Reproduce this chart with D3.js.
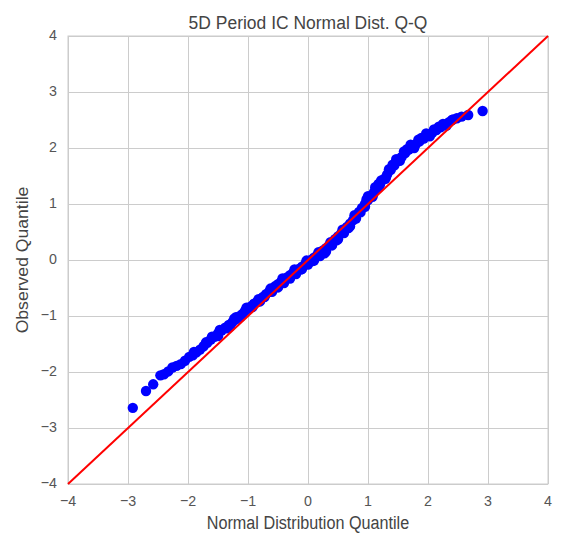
<!DOCTYPE html>
<html>
<head>
<meta charset="utf-8">
<script src="https://cdn.jsdelivr.net/npm/d3@7"></script>
<style>
  html, body { margin: 0; padding: 0; background: #fff; }
  svg { display: block; }
  text { font-family: "Liberation Sans", Arial, sans-serif; }
</style>
</head>
<body>
<svg id="chart" width="563" height="539"></svg>
<script>
// ---- data ----
const title = "5D Period IC Normal Dist. Q-Q";
const xLabel = "Normal Distribution Quantile";
const yLabel = "Observed Quantile";
const xTicks = [-4, -3, -2, -1, 0, 1, 2, 3, 4];
const yTicks = [-4, -3, -2, -1, 0, 1, 2, 3, 4];
const lineEnds = [-4, 4]; // 45-degree reference line y = x

// theoretical (normal) quantiles
const theoretical = [
  -2.92, -2.70, -2.58, -2.46, -2.40, -2.33, -2.26, -2.19, -2.12, -2.05,
  -1.98, -1.92, -1.86, -1.80, -1.74, -1.68, -1.62, -1.56, -1.50, -1.44,
  -1.38, -1.32, -1.26, -1.20, -1.15, -1.10, -1.05, -1.00, -0.95, -0.90,
  -0.85, -0.80, -0.75, -0.70, -0.65, -0.60, -0.55, -0.50, -0.45, -0.40,
  -0.35, -0.30, -0.25, -0.20, -0.15, -0.10, -0.05, 0.00, 0.05, 0.10,
  0.15, 0.20, 0.25, 0.30, 0.35, 0.40, 0.45, 0.50, 0.55, 0.60,
  0.65, 0.70, 0.75, 0.80, 0.85, 0.90, 0.95, 1.00, 1.05, 1.10,
  1.15, 1.20, 1.26, 1.32, 1.38, 1.44, 1.50, 1.56, 1.62, 1.68,
  1.74, 1.80, 1.86, 1.93, 2.00, 2.07, 2.14, 2.21, 2.28, 2.35,
  2.42, 2.48, 2.56, 2.67, 2.91,
  -1.47, -1.35, -1.23, -1.125, -1.025, -0.925, -0.825, -0.725, -0.625, -0.525,
  -0.425, -0.325, -0.225, -0.125, -0.025, 0.075, 0.175, 0.275, 0.375, 0.475,
  0.575, 0.675, 0.775, 0.875, 0.975, 1.075, 1.175, 1.29, 1.41, 1.53,
  1.65, 1.77, 1.89, 2.03, 2.18, 2.31,
  1.00, 1.12, 1.22, 1.35, 1.47, 1.60, 1.71, 1.84, 1.97, 2.10,
  2.25, 2.40, 0.95, 1.08, 1.18, 1.30,
  -0.60, -0.50, -0.40, -0.30, -0.20, -0.10, 0.00, 0.10, 0.20, 0.30,
  0.40, 0.50, 0.60, 0.70, 0.80,
  -1.90, -1.70, -1.50, -1.30, -1.10, -0.90, -0.80, -1.20, -1.60
];
// observed (sample) quantiles
const observed = [
  -2.64, -2.34, -2.22, -2.06, -2.04, -1.99, -1.92, -1.89, -1.86, -1.80,
  -1.73, -1.70, -1.65, -1.60, -1.54, -1.48, -1.42, -1.37, -1.31, -1.26,
  -1.21, -1.16, -1.11, -1.06, -1.01, -0.97, -0.91, -0.87, -0.83, -0.79,
  -0.75, -0.71, -0.66, -0.61, -0.57, -0.52, -0.47, -0.43, -0.39, -0.35,
  -0.31, -0.27, -0.23, -0.20, -0.16, -0.12, -0.08, -0.04, 0.00, 0.04,
  0.08, 0.12, 0.17, 0.21, 0.26, 0.31, 0.37, 0.42, 0.47, 0.53,
  0.59, 0.65, 0.71, 0.78, 0.86, 0.93, 1.00, 1.07, 1.14, 1.21,
  1.28, 1.35, 1.44, 1.53, 1.61, 1.69, 1.77, 1.84, 1.91, 1.97,
  2.02, 2.07, 2.12, 2.17, 2.22, 2.27, 2.32, 2.37, 2.42, 2.46,
  2.51, 2.53, 2.56, 2.59, 2.66,
  -1.25, -1.22, -1.05, -1.02, -0.85, -0.84, -0.70, -0.66, -0.51, -0.48,
  -0.33, -0.32, -0.17, -0.17, -0.01, -0.02, 0.14, 0.12, 0.32, 0.35,
  0.54, 0.57, 0.80, 0.85, 1.08, 1.13, 1.36, 1.45, 1.70, 1.77,
  1.98, 2.00, 2.18, 2.21, 2.38, 2.40,
  1.14, 1.30, 1.42, 1.62, 1.80, 1.94, 2.06, 2.15, 2.26, 2.33,
  2.43, 2.50, 0.95, 1.16, 1.30, 1.48,
  -0.57, -0.49, -0.41, -0.33, -0.25, -0.16, -0.08, -0.01, 0.07, 0.15,
  0.26, 0.37, 0.48, 0.60, 0.74,
  -1.64, -1.47, -1.36, -1.19, -0.99, -0.78, -0.74, -1.02, -1.37
];

// ---- layout ----
const plot = { left: 68, right: 548, top: 36, bottom: 484 };
const squish = 0.92; // horizontal text compression seen in the reference
const svg = d3.select("#chart");

const x = d3.scaleLinear().domain([-4, 4]).range([plot.left, plot.right]);
const y = d3.scaleLinear().domain([-4, 4]).range([plot.bottom, plot.top]);

const gridColor = "#cccccc";
const textColor = "#555555";

// grid
const xAxisG = svg.append("g")
  .attr("transform", `translate(0,${plot.bottom})`)
  .call(d3.axisBottom(x).tickValues(xTicks).tickSize(-(plot.bottom - plot.top)).tickFormat(""));
const yAxisG = svg.append("g")
  .attr("transform", `translate(${plot.left},0)`)
  .call(d3.axisLeft(y).tickValues(yTicks).tickSize(-(plot.right - plot.left)).tickFormat(""));
[xAxisG, yAxisG].forEach(g => {
  g.select(".domain").remove();
  g.selectAll(".tick line").attr("stroke", gridColor).attr("stroke-width", 1);
});

// frame
svg.append("rect")
  .attr("x", plot.left).attr("y", plot.top)
  .attr("width", plot.right - plot.left).attr("height", plot.bottom - plot.top)
  .attr("fill", "none").attr("stroke", gridColor).attr("stroke-width", 1);

// tick labels
const fmt = d => (d < 0 ? "\u2212" + Math.abs(d) : String(d));
svg.append("g").selectAll("text").data(xTicks).join("text")
  .attr("transform", d => `translate(${x(d)},${plot.bottom + 22}) scale(${squish},1)`)
  .attr("text-anchor", "middle")
  .attr("font-size", 15.5).attr("fill", textColor)
  .text(fmt);
svg.append("g").selectAll("text").data(yTicks).join("text")
  .attr("transform", d => `translate(${plot.left - 11},${y(d) + 4}) scale(${squish},1)`)
  .attr("text-anchor", "end")
  .attr("font-size", 15.5).attr("fill", textColor)
  .text(fmt);

// points
const pts = theoretical.map((t, i) => ({ t, o: observed[i] }));
svg.append("g").selectAll("circle").data(pts).join("circle")
  .attr("cx", d => x(d.t)).attr("cy", d => y(d.o)).attr("r", 5.2)
  .attr("fill", "#0000ff");

// 45-degree line
svg.append("line")
  .attr("x1", x(lineEnds[0])).attr("y1", y(lineEnds[0]))
  .attr("x2", x(lineEnds[1])).attr("y2", y(lineEnds[1]))
  .attr("stroke", "#ff0000").attr("stroke-width", 2);

// title & labels
svg.append("text")
  .attr("transform", `translate(${(plot.left + plot.right) / 2},29) scale(${squish},1)`)
  .attr("text-anchor", "middle").attr("font-size", 19).attr("fill", "#444")
  .text(title);
svg.append("text")
  .attr("transform", `translate(${(plot.left + plot.right) / 2},529) scale(${squish},1)`)
  .attr("text-anchor", "middle").attr("font-size", 17.6).attr("fill", "#444")
  .text(xLabel);
svg.append("text")
  .attr("transform", `translate(28,${(plot.top + plot.bottom) / 2}) scale(${squish},1) rotate(-90)`)
  .attr("text-anchor", "middle").attr("font-size", 17.6).attr("fill", "#444")
  .text(yLabel);
</script>
</body>
</html>
